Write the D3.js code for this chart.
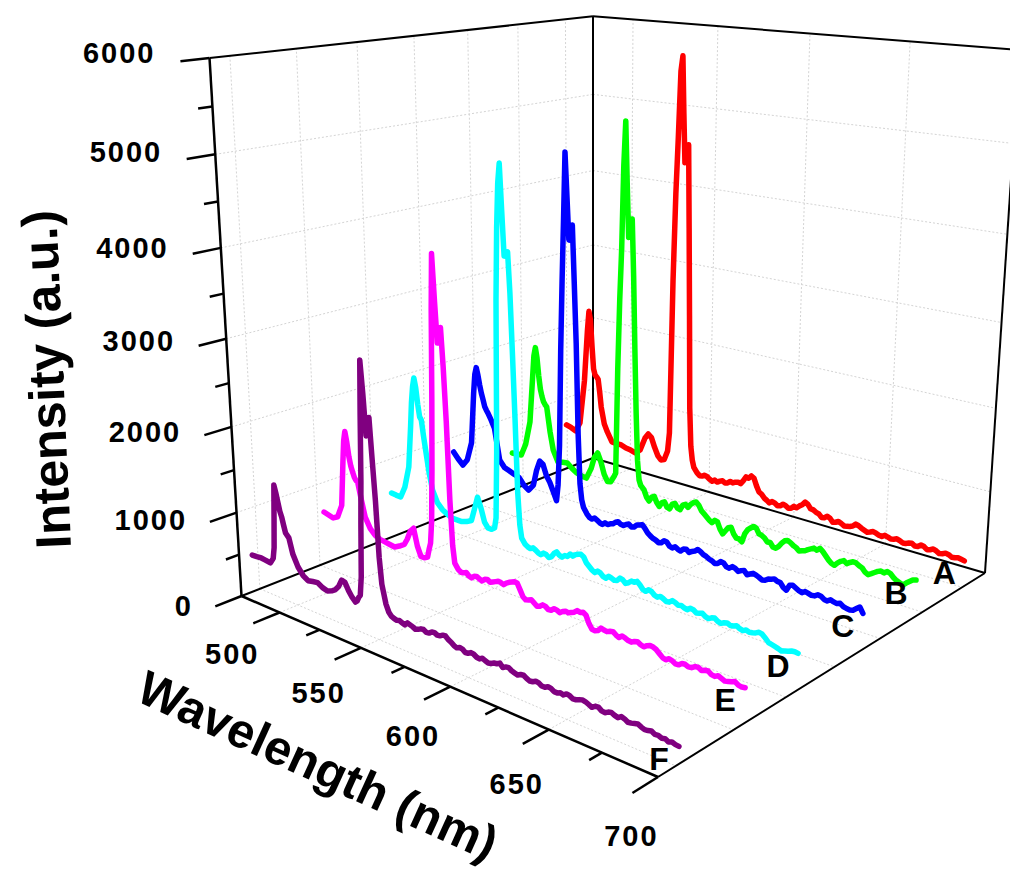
<!DOCTYPE html>
<html><head><meta charset="utf-8">
<script src="https://cdnjs.cloudflare.com/ajax/libs/d3/7.8.5/d3.min.js"></script>
<style>html,body{margin:0;padding:0;background:#fff}svg{display:block}text{font-family:"Liberation Sans",Arial,sans-serif;font-weight:bold;fill:#000}</style>
</head><body><svg id="c" width="1010" height="872"></svg>
<script>
const wavelengths=[475,478,481,484,487,489,490,491,492,493,494,495,496,497,498,500,502,505,508,511,514,517,520,523,526,528,530,532,534,536,538,540,541,542,543,544,545,546,547,548,549,550,551,552,553,554,555,556,
558,559.5,561,562.5,564,565.5,567,568.5,570,571.5,573,574.5,576,577.5,579,580.5,582,583.5,585,586.5,588,589.5,591,592.5,594,595.5,597,598.5,600,601.5,603,604.5,606,607.5,609,610.5,612,613.5,615,616.5,618,619.5,621,622.5,624,625.5,627,628.5,630,631.5,633,634.5,636,637.5,639,640.5,642,643.5,645,646.5,648,649.5,651,652.5,654,655.5,657,658.5,660,661.5,663,664.5,666,667.5,669,670.5,672,673.5,675,676.5,678,679.5,681,682.5,684,685.5,687,688.5,690,691.5,693,694.5,696,697.5,699,700.5,702,703.5];
const seriesA=[618,600,570,700,1300,2000,2266,2150,1800,1500,1420,1400,1370,1200,1000,780,680,561,555,554,530,520,500,560,740,807,770,650,550,502,520,650,900,2900,4000,4700,5500,5684,5000,4400,4450,4624,3600,2500,1300,800,620,530,
467,440,445,465,455,430,415,440,423,445,460,440,450,480,470,490,500,490,540,600,590,630,610,520,450,430,390,370,347,375,365,340,350,380,372,350,360,395,385,420,445,490,470,425,420,400,390,355,362,390,375,335,345,365,350,330,335,345,360,395,385,365,350,335,348,365,355,340,335,360,350,335,345,360,348,330,335,350,358,335,340,370,362,335,345,365,352,330,340,358,350,330,335,345,338,330];
const seriesB=[505,510,516,680,1000,1600,1900,2012,1880,1650,1480,1387,1320,1290,1264,950,712,572,585,595,540,499,480,470,620,780,846,740,590,510,520,600,653,2000,2867,3500,4500,5026,4300,3650,3750,3880,3200,2300,1500,900,654,590,
543,460,420,480,500,430,390,450,470,410,400,470,490,440,430,500,520,490,540,570,590,560,500,470,440,410,390,430,420,340,290,340,390,405,330,290,290,265,380,440,470,500,490,430,420,400,360,365,320,315,350,400,440,455,440,415,400,370,385,395,420,440,460,445,480,450,410,370,340,330,370,400,420,395,420,440,437,415,400,360,341,365,390,415,430,420,447,435,400,375,360,345,380,410,440,450];
const seriesC=[805,730,670,760,1000,1650,1900,1991,1900,1780,1680,1604,1520,1480,1449,1370,1280,888,810,785,760,741,660,615,700,900,1030,1000,870,800,700,594,800,1300,2478,3300,4020,4799,4300,3800,3800,3980,3300,2600,1500,900,704,620,
550,515,505,530,510,490,480,510,500,520,530,560,577,555,550,575,590,565,575,610,620,635,600,555,530,510,500,480,490,525,520,480,470,495,475,465,500,510,480,505,520,550,535,510,500,480,470,450,460,495,490,455,450,480,470,445,466,480,440,460,480,470,455,435,445,470,480,495,477,475,430,410,480,490,470,450,440,465,455,445,450,475,470,445,440,465,452,445,460,435,425,420,430,460,490,430];
const seriesD=[565,558,554,700,975,1500,1800,2000,2112,2000,1800,1650,1618,1450,1295,1000,783,640,575,540,510,510,510,530,565,720,880,760,600,543,540,570,700,1500,3283,4100,4600,4816,4300,3800,3800,3854,3400,2700,1951,1100,713,560,
500,480,470,490,473,450,440,470,465,440,459,510,540,510,500,530,530,570,555,585,600,610,590,530,500,470,451,480,470,440,430,465,455,440,450,490,480,450,470,500,498,520,490,450,440,470,460,430,420,440,425,405,410,440,430,410,420,405,395,425,420,395,405,415,390,380,401,410,385,375,395,405,388,395,410,390,380,400,388,395,405,425,416,385,349,340,330,320,307,320,330,345,350,345];
const seriesE=[636,620,604,640,800,1350,1600,1721,1600,1430,1324,1260,1200,1170,1158,950,761,640,580,553,545,535,526,560,600,680,790,837,640,530,530,554,650,732,1000,1600,2400,3400,4010,3500,3050,3100,3230,2800,2200,1320,800,600,
540,520,524,540,510,500,530,540,521,510,540,550,530,545,560,575,572,560,590,610,625,640,634,570,504,480,490,505,480,455,467,495,490,465,470,500,495,480,505,520,514,530,545,575,567,580,560,480,428,425,440,480,470,465,481,490,465,450,480,470,455,450,470,480,460,450,475,490,486,470,440,410,400,425,415,395,398,425,430,415,420,445,450,430,445,450,425,420,440,425,410,420,430,445,421,415,421];
const seriesF=[437,440,446,440,431,500,638,1000,1385,1300,1200,1100,1040,950,866,823,650,518,440,402,415,426,390,375,400,430,480,570,560,480,420,380,400,450,482,700,1300,1784,2500,3098,2750,2300,2400,2509,2057,1625,1000,708,
500,420,385,372,365,375,362,350,385,375,365,350,362,380,385,365,370,395,400,385,390,410,413,385,370,345,333,350,345,320,325,345,340,320,315,335,320,310,317,335,340,360,325,345,350,330,320,310,330,335,315,300,306,325,320,300,300,320,315,295,295,310,301,325,320,300,305,320,331,325,310,295,320,325,300,295,315,325,309,300,325,315,295,300,310,320,302,290,295,305,285,290,275,285,265,280,268,265];
const seriesNames=["A","B","C","D","E","F"];
const seriesColors=["#ff0000","#00ff00","#0000ff","#00ffff","#ff00ff","#800080"];
const seriesDepth=[0.91,0.734,0.558,0.382,0.206,0.03];
const intensityTicks=[0,500,1000,1500,2000,2500,3000,3500,4000,4500,5000,5500,6000];
const wavelengthTicks=[500,525,550,575,600,625,650,675,700];
const wallDepths=[0.043,0.19,0.334,0.478,0.623,0.767,0.912];

const svg=d3.select("#c");
const uS=d3.scaleLinear().domain([475,700]).range([0,1]);
const tS=d3.scaleLinear().domain([0,6000]).range([0,1]);
// projective camera fitted to the floor corners and vertical vanishing point
const g=-0.19609,h=0.22607,a=287.47,b=485.56,c=241.5,d=28.64,e=-34.46,f=596,kv=-0.08336,vx=593,vy=6512;
function proj(u,v,t){const w=g*u+h*v+1+kv*t;return[(a*u+b*v+c+kv*t*vx)/w,(d*u+e*v+f+kv*t*vy)/w];}
const P=(l,v,i)=>proj(uS(l),v,tS(i));
const seg=d3.line();
function line3(p,q,cls){return svg.append("path").attr("d",seg([p,q])).attr("fill","none").attr("class",cls);}
function grid(p,q){line3(p,q,"g").attr("stroke","#d4d4d4").attr("stroke-width",1).attr("stroke-dasharray","2,2");}
function frame(p,q,w){line3(p,q,"f").attr("stroke","#000").attr("stroke-width",w||2);}
// gridlines
[500,550,600,650].forEach(l=>{grid(P(l,0,0),P(l,1,0));grid(P(l,1,0),P(l,1,6000));});
wallDepths.forEach(v=>{grid(proj(0,v,0),proj(1,v,0));grid(proj(0,v,0),proj(0,v,1));});
[1000,2000,3000,4000,5000].forEach(i=>{grid(P(475,0,i),P(475,1,i));grid(P(475,1,i),P(700,1,i));});
// box
frame(proj(0,1,0),proj(0,0,0));frame(proj(0,1,0),proj(1,1,0));
frame(proj(0,1,0),proj(0,1,1));frame(proj(0,1,1),proj(0,0,1));frame(proj(0,1,1),proj(1,1,1));
frame(proj(1,1,0),proj(1,1,1));frame(proj(1,1,0),proj(1,0,0));
frame(proj(0,0,0),proj(1,0,0),2.5);frame(proj(0,0,0),proj(0,0,1),2.5);
// ticks
intensityTicks.forEach(i=>{const m=i%1000===0;frame(P(475,0,i),P(475,m?-0.06:-0.03,i),2.5);});
wavelengthTicks.forEach(l=>{const m=l%50===0;frame(P(l,0,0),P(l,m?-0.06:-0.03,0),2.5);});
// tick labels
const lblY=d3.scaleLinear().domain([0,6000]).range([-7,-9]);
intensityTicks.filter(i=>i%1000===0).forEach(i=>{const p=P(475,-0.11,i);
 svg.append("text").attr("x",p[0]).attr("y",p[1]+lblY(i)).attr("text-anchor","end").attr("dominant-baseline","middle")
 .attr("font-size",29).attr("letter-spacing",2).text(i);});
const lblDx=d3.scaleLinear().domain([500,700]).range([-21,-1]),lblDy=d3.scaleLinear().domain([500,700]).range([33,45]);
wavelengthTicks.filter(l=>l%50===0).forEach(l=>{const p=P(l,-0.06,0);
 svg.append("text").attr("x",p[0]+lblDx(l)).attr("y",p[1]+lblDy(l)).attr("text-anchor","middle").attr("dominant-baseline","middle")
 .attr("font-size",29).attr("letter-spacing",2).text(l);});
// series
const all=[seriesA,seriesB,seriesC,seriesD,seriesE,seriesF];
all.forEach((s,k)=>{
 const pts=s.map((y,i)=>P(wavelengths[i],seriesDepth[k],y));
 svg.append("path").attr("d",d3.line()(pts)).attr("fill","none").attr("stroke",seriesColors[k])
  .attr("stroke-width",5.5).attr("stroke-linejoin","round").attr("stroke-linecap","round");
 const end=pts[pts.length-1];
 svg.append("text").attr("x",end[0]-20).attr("y",end[1]+15).attr("text-anchor","middle").attr("dominant-baseline","middle")
  .attr("font-size",32).text(seriesNames[k]);
});
// axis titles
svg.append("text").attr("transform","translate(71,548) rotate(-92.5)").attr("font-size",50).text("Intensity (a.u.)");
svg.append("text").attr("transform","translate(134,700) rotate(24.5)").attr("font-size",48.5).text("Wavelength (nm)");
</script></body></html>
